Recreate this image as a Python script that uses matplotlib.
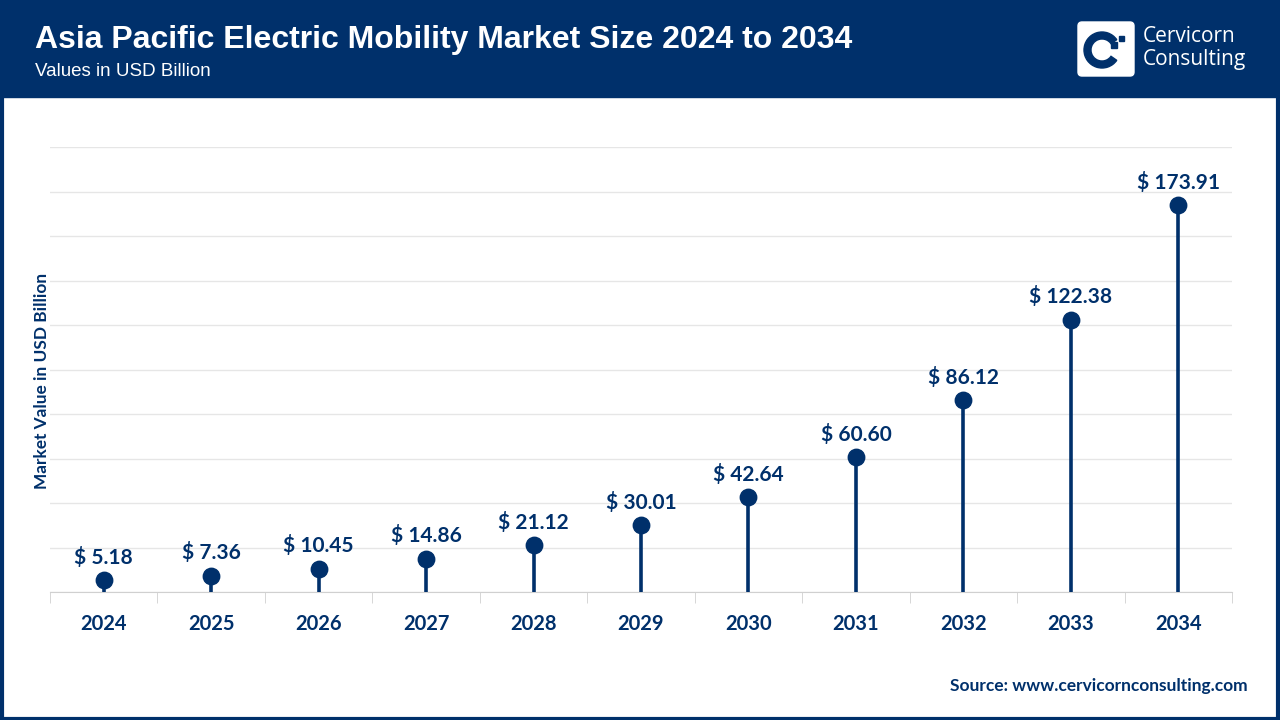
"""
Asia Pacific Electric Mobility Market Size 2024 to 2034 - lollipop chart.

- Writes: out.png
"""

import matplotlib.pyplot as plt
from matplotlib.patches import Rectangle, FancyBboxPatch, Wedge

years = ["2024", "2025", "2026", "2027", "2028", "2029",
         "2030", "2031", "2032", "2033", "2034"]
values = [5.18, 7.36, 10.45, 14.86, 21.12, 30.01,
          42.64, 60.60, 86.12, 122.38, 173.91]

NAVY = "#00306b"
GRID = "#e6e6e6"
LABEL_FONT = ["Lato", "DejaVu Sans"]
HEAD_FONT = ["Liberation Sans", "DejaVu Sans"]


def draw_header(fig):
    # navy band on top
    fig.add_artist(Rectangle((0, 1 - 97 / 720), 1, 97 / 720,
                             transform=fig.transFigure, color=NAVY, zorder=0))
    fig.text(35 / 1280, 1 - 40 / 720,
             "Asia Pacific Electric Mobility Market Size 2024 to 2034",
             family=HEAD_FONT, weight="bold", size=23, color="white",
             va="center", ha="left")
    fig.text(35 / 1280, 1 - 71 / 720, "Values in USD Billion",
             family=HEAD_FONT, size=13.5, color="white", va="center", ha="left")

    # logo box
    lx, ly, lw, lh = 1077, 21, 58, 56
    ax = fig.add_axes([lx / 1280, 1 - (ly + lh) / 720, lw / 1280, lh / 720])
    ax.set_xlim(0, lw)
    ax.set_ylim(0, lh)
    ax.axis("off")
    ax.add_patch(FancyBboxPatch((1, 1), lw - 2, lh - 2,
                                boxstyle="round,pad=0,rounding_size=4",
                                fc="white", ec="white"))
    ax.add_patch(Wedge((25, 27), 18, 35, 325, width=7, color=NAVY))
    ax.add_patch(Rectangle((34, 29), 6, 6, color=NAVY))
    ax.add_patch(Rectangle((42, 36), 5, 5, color=NAVY))

    fig.text(1143 / 1280, 1 - 37 / 720, "Cervicorn",
             family=["Open Sans", "DejaVu Sans"], size=15, color="white",
             va="center", ha="left")
    fig.text(1143 / 1280, 1 - 59 / 720, "Consulting",
             family=["Open Sans", "DejaVu Sans"], size=15, color="white",
             va="center", ha="left")


def main():
    fig = plt.figure(figsize=(12.8, 7.2), dpi=100)
    fig.patch.set_facecolor("white")

    draw_header(fig)

    # outer frame
    fig.add_artist(Rectangle((0.0012, 0.0015), 0.9976, 0.997,
                             transform=fig.transFigure, fill=False,
                             ec=NAVY, lw=3, zorder=10))

    ax = fig.add_axes([50 / 1280, 1 - 592 / 720,
                       (1232 - 50) / 1280, (592 - 147) / 720])
    x = list(range(len(years)))
    ax.vlines(x, 0, values, color=NAVY, lw=2.6, zorder=3)
    ax.scatter(x, values, s=140, color=NAVY, zorder=4)
    for xi, v in zip(x, values):
        ax.annotate(f"$ {v:.2f}", (xi, v), xytext=(0, 9),
                    textcoords="offset points", ha="center", va="bottom",
                    family=LABEL_FONT, weight="bold", size=15, color=NAVY)

    ax.set_xlim(-0.5, len(years) - 0.5)
    ax.set_ylim(0, 200)
    ax.set_yticks(range(0, 201, 20))
    ax.yaxis.grid(True, color=GRID, lw=1)
    ax.set_axisbelow(True)
    ax.tick_params(axis="y", length=0, labelleft=False)

    # category separators as minor ticks
    ax.set_xticks(x)
    ax.set_xticklabels(years, family=LABEL_FONT, weight="bold",
                       size=14.5, color=NAVY)
    ax.set_xticks([i - 0.5 for i in range(len(years) + 1)], minor=True)
    ax.tick_params(axis="x", which="major", length=0, pad=16)
    ax.tick_params(axis="x", which="minor", length=8, color="#d0d0d0",
                   direction="out")

    for side in ("top", "right", "left"):
        ax.spines[side].set_visible(False)
    ax.spines["bottom"].set_color("#d0d0d0")

    ax.set_ylabel("Market Value in USD Billion", family=LABEL_FONT,
                  weight="bold", size=12.4, color=NAVY, va="center")
    ax.yaxis.set_label_coords(-0.0068, 0.474)

    fig.text(1248 / 1280, 1 - 686 / 720,
             "Source: www.cervicornconsulting.com",
             family=LABEL_FONT, weight="bold", size=12.5, color=NAVY,
             ha="right", va="center")

    fig.savefig("out.png", dpi=100)
    plt.close(fig)


if __name__ == "__main__":
    main()
